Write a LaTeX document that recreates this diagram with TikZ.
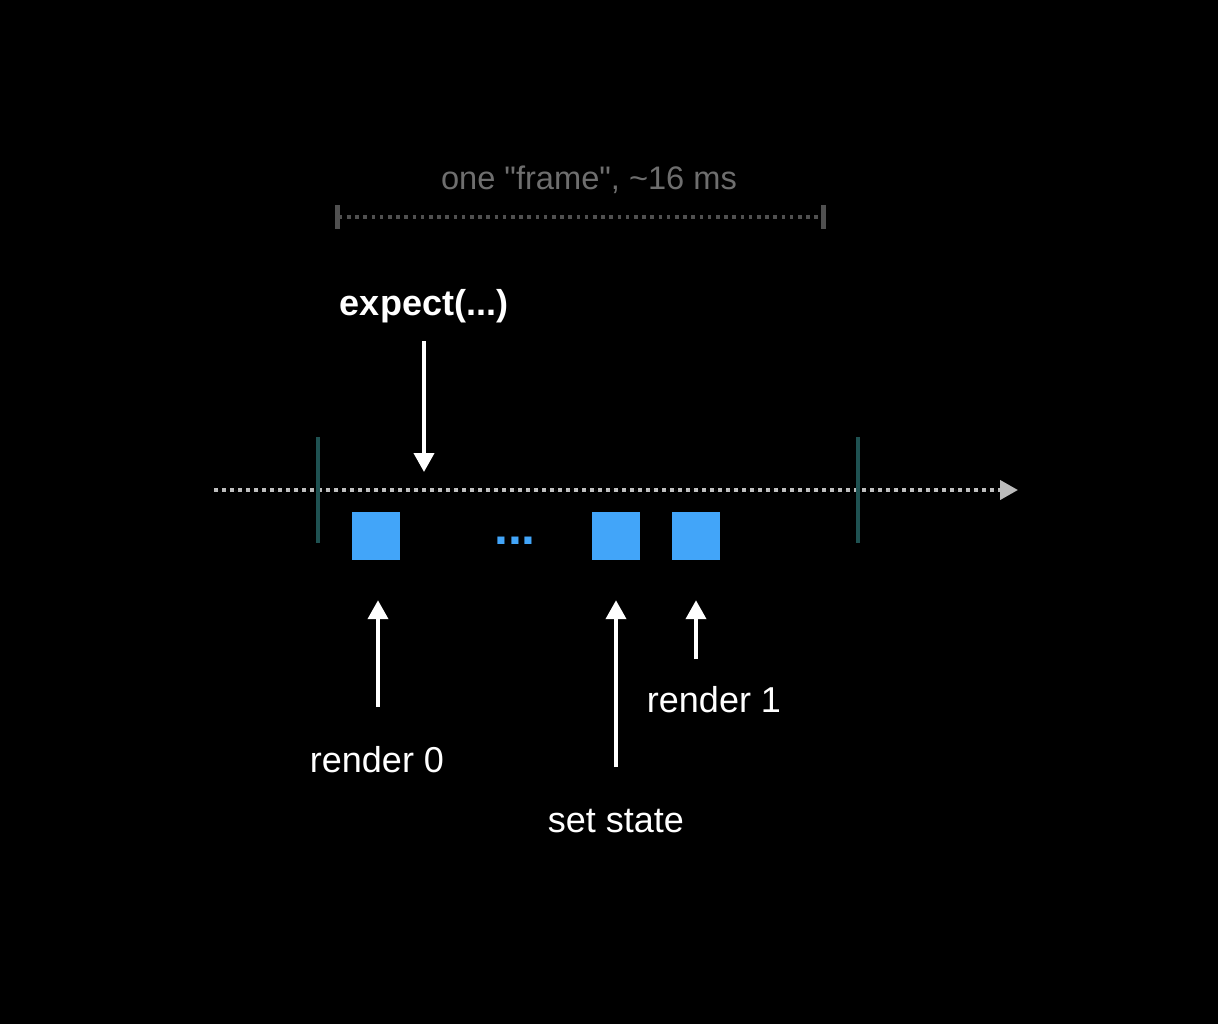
\documentclass[tikz,border=0pt]{standalone}
\usepackage{fontspec}
\setmainfont{Liberation Sans}
\newfontfamily\plainquotes{Liberation Sans}
\usetikzlibrary{positioning,arrows.meta}

\definecolor{tickblue}{HTML}{42A5F9}
\definecolor{frameteal}{HTML}{1F5252}
\definecolor{spangray}{HTML}{505050}
\definecolor{titlegray}{HTML}{6E6E6E}
\definecolor{axisgray}{HTML}{BBBBBB}

\begin{document}
\begin{tikzpicture}[x=1pt, y=-1pt, >=Triangle,
  lbl/.style={font=\fontsize{36}{40}\selectfont, text=white, inner sep=0pt, anchor=base},
  pointer/.style={draw=white, line width=4pt, -{Triangle[length=19pt, width=20pt]}},
  box/.style={fill=tickblue, minimum size=48pt, inner sep=0pt},
  bound/.style={draw=frameteal, line width=4pt}]
\fill[black] (0,0) rectangle (1218,1024);

% frame span on top
\node[lbl, text=titlegray, font=\plainquotes\fontsize{32.6}{36}\selectfont] (title) at (589,190) {one "frame", \textasciitilde16 ms};
\coordinate (spanL) at (335,217);
\coordinate (spanR) at (826,217);
\draw[spangray, line width=3.6pt, dash pattern=on 3.6pt off 4.6pt,
  {Bar[width=24pt, line width=5pt]}-{Bar[width=24pt, line width=5pt]}] (spanL) -- (spanR);

% timeline
\coordinate (tstart) at (214,490);
\coordinate (tend) at (1018,490);
\draw[axisgray, line width=4pt, dash pattern=on 4pt off 4pt,
  -{Triangle[length=18pt, width=19pt]}] (tstart) -- (tend);
\coordinate (fL) at (318,437);
\coordinate (fR) at (858,437);
\draw[bound] (fL) -- ++(0,106);
\draw[bound] (fR) -- ++(0,106);

% renders
\node[box] (box0) at (376,536) {};
\node[box] (box1) at (616,536) {};
\node[box] (box2) at (696,536) {};
\node[lbl, text=tickblue, font=\fontsize{50}{50}\selectfont\bfseries] (dots) at (515,544) {...};

% labels and arrows
\node[lbl, font=\fontsize{36}{40}\selectfont\bfseries] (expect) at (424,316) {expect(...)};
\coordinate (exptail) at (424,341);
\coordinate (exphit) at (424,472);
\draw[pointer] (exptail) -- (exphit);

\node[lbl] (r0) at (377,772) {render 0};
\node[lbl] (set) at (616,832) {set state};
\node[lbl] (r1) at (714,712) {render 1};
\coordinate (r0tail) at (378,707);
\coordinate (settail) at (616,767);
\coordinate (r1tail) at (696,659);
\draw[pointer, shorten >=40pt] (r0tail) -- (r0tail |- box0.south);
\draw[pointer, shorten >=40pt] (settail) -- (box1.south);
\draw[pointer, shorten >=40pt] (r1tail) -- (box2.south);
\end{tikzpicture}
\end{document}
